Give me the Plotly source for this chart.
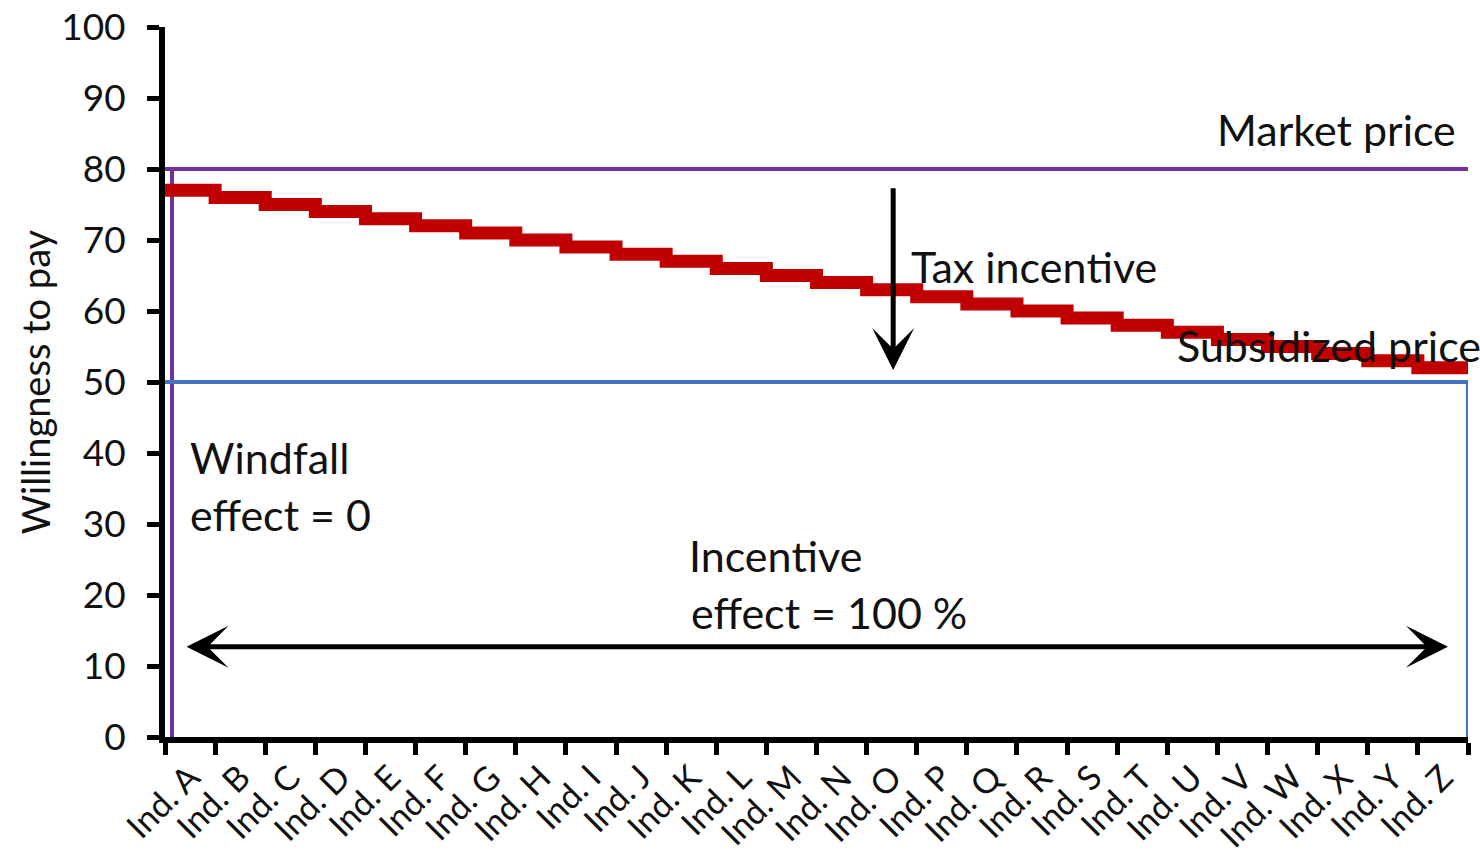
import plotly.graph_objects as go

# ---- data ----
individuals = ["Ind. " + c for c in "ABCDEFGHIJKLMNOPQRSTUVWXYZ"]
willingness = [77, 76, 75, 74, 73, 72, 71, 70, 69, 68, 67, 66, 65,
               64, 63, 62, 61, 60, 59, 58, 57, 56, 55, 54, 53, 52]
market_price = 80
subsidized_price = 50
windfall_x = 0.14  # position of windfall boundary line (category units)

n = len(individuals)
boundaries = list(range(n + 1))
centers = [i + 0.5 for i in range(n)]

RED = "#C00000"
PURPLE = "#7030A0"
BLUE = "#4472C4"
FONT = "Lato"
TXT = "#111111"
FS_ANN = 43
FS_TICK = 37
FS_XTICK = 34
FS_TITLE = 38

fig = go.Figure()

# thin blue line under the steps
fig.add_trace(go.Scatter(x=centers, y=willingness, mode="lines",
                         line=dict(color=BLUE, width=3), cliponaxis=False,
                         hoverinfo="skip"))
# market price (purple)
fig.add_trace(go.Scatter(x=[boundaries[0], boundaries[-1]], y=[market_price, market_price],
                         mode="lines", line=dict(color=PURPLE, width=4), cliponaxis=False))
fig.add_trace(go.Scatter(x=[windfall_x, windfall_x], y=[market_price, 0],
                         mode="lines", line=dict(color=PURPLE, width=4), cliponaxis=False))
# subsidized price (blue)
fig.add_trace(go.Scatter(x=[boundaries[0], boundaries[-1], boundaries[-1]],
                         y=[subsidized_price, subsidized_price, 0],
                         mode="lines", line=dict(color=BLUE, width=4), cliponaxis=False))
# willingness to pay step curve (red)
fig.add_trace(go.Scatter(x=boundaries, y=willingness + [willingness[-1]], mode="lines",
                         line=dict(color=RED, width=13, shape="hv"), cliponaxis=False))

ann = []
def text(x, y, s):
    ann.append(dict(x=x, y=y, xref="x", yref="y", text=s, showarrow=False,
                    xanchor="left", yanchor="middle",
                    font=dict(family=FONT, size=FS_ANN, color=TXT)))

text(20.95, 85.5, "Market price")
text(14.85, 66.2, "Tax incen\u200ctive")
text(20.15, 55.2, "Subsidized price")
text(0.45, 39.3, "Windfall")
text(0.45, 31.3, "effect = 0")
text(10.42, 25.5, "Incen\u200ctive")
text(10.46, 17.6, "effect = 100 %")

# vertical arrow (tax incentive)
ann.append(dict(x=14.53, y=51.7, ax=14.53, ay=77.5, xref="x", yref="y",
                axref="x", ayref="y", text="", showarrow=True,
                arrowhead=3, arrowsize=1.4, arrowwidth=5, arrowcolor="black"))
# horizontal double arrow (incentive effect)
ann.append(dict(x=25.6, y=12.7, ax=0.4, ay=12.7, xref="x", yref="y",
                axref="x", ayref="y", text="", showarrow=True,
                arrowhead=3, arrowsize=1.4, arrowwidth=5, arrowcolor="black",
                arrowside="end+start", startarrowhead=3, startarrowsize=1.4))

fig.update_layout(
    width=1480, height=855,
    margin=dict(l=165, r=12, t=27, b=118),
    paper_bgcolor="white", plot_bgcolor="white",
    showlegend=False,
    annotations=ann,
    font=dict(family=FONT, size=FS_TICK, color=TXT),
)

fig.update_xaxes(
    range=[0, n], automargin=False,
    tickmode="array", tickvals=centers, ticktext=individuals,
    ticks="", tickangle=-45, ticklabelstandoff=1,
    tickfont=dict(family=FONT, size=FS_XTICK, color=TXT),
    showline=True, linecolor="black", linewidth=6,
    showgrid=False, zeroline=False,
    minor=dict(tickmode="linear", tick0=0, dtick=1, ticks="outside",
               ticklen=12, tickwidth=5, tickcolor="black", showgrid=False),
)
fig.update_yaxes(
    range=[0, 100], automargin=False, tickmode="linear", tick0=0, dtick=10,
    ticks="outside", ticklen=12, tickwidth=5, tickcolor="black",
    ticklabelstandoff=14,
    tickfont=dict(family=FONT, size=FS_TICK, color=TXT),
    showline=True, linecolor="black", linewidth=6,
    showgrid=False, zeroline=False,
    title=dict(text="Willingness to pay", standoff=1,
               font=dict(family=FONT, size=FS_TITLE, color=TXT)),
)

fig.write_html("out.html")
